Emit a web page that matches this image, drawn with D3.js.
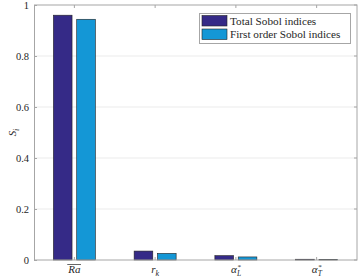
<!DOCTYPE html>
<html>
<head>
<meta charset="utf-8">
<script src="https://cdnjs.cloudflare.com/ajax/libs/d3/7.8.5/d3.min.js"></script>
<style>
  body { margin: 0; background: #fff; }
  text { font-family: "Liberation Serif", "DejaVu Serif", serif; fill: #262626; }
</style>
</head>
<body>
<script>
// Data
var categories = ["Ra", "rk", "aL", "aT"];
var seriesNames = ["Total Sobol indices", "First order Sobol indices"];
var totalSobol = [0.960, 0.035, 0.017, 0.003];
var firstSobol = [0.944, 0.026, 0.012, 0.002];
var yTicks = [0, 0.2, 0.4, 0.6, 0.8, 1];
var colors = ["#352a87", "#1497d6"];

var margin = {top: 5, right: 2, bottom: 18, left: 34},
    width = 359 - margin.left - margin.right,
    height = 278 - margin.top - margin.bottom;

var svg = d3.select("body").append("svg")
    .attr("width", 359)
    .attr("height", 278);

var g = svg.append("g")
    .attr("transform", "translate(" + margin.left + "," + margin.top + ")");

var x0 = d3.scaleBand().domain(categories).range([0, width]).padding(0);
var bw = x0.bandwidth();
var x1 = d3.scaleBand().domain([0, 1])
    .range([bw / 2 - 21, bw / 2 + 21]).paddingInner(0.2);
var y = d3.scaleLinear().domain([0, 1]).range([height, 0]);

// grid
g.selectAll("line.grid")
    .data(yTicks.slice(1, -1))
  .enter().append("line")
    .attr("class", "grid")
    .attr("x1", 0).attr("x2", width)
    .attr("y1", function(d) { return y(d); })
    .attr("y2", function(d) { return y(d); })
    .attr("stroke", "#ebebeb")
    .attr("stroke-width", 1);

// bars
var rows = categories.map(function(c, i) { return [totalSobol[i], firstSobol[i]]; });
var groups = g.selectAll("g.grp")
    .data(rows)
  .enter().append("g")
    .attr("class", "grp")
    .attr("transform", function(d, i) { return "translate(" + x0(categories[i]) + ",0)"; });

groups.selectAll("rect")
    .data(function(d) { return d; })
  .enter().append("rect")
    .attr("x", function(d, j) { return x1(j); })
    .attr("width", x1.bandwidth())
    .attr("y", function(d) { return y(d); })
    .attr("height", function(d) { return height - y(d); })
    .attr("fill", function(d, j) { return colors[j]; })
    .attr("stroke", "#222")
    .attr("stroke-width", 0.6);

// box
g.append("rect")
    .attr("x", 0.5).attr("y", 0)
    .attr("width", width - 0.5).attr("height", height)
    .attr("fill", "none")
    .attr("stroke", "#a6a6a6")
    .attr("stroke-width", 1);

// y axis
var yAxis = d3.axisLeft(y).tickValues(yTicks).tickSizeInner(-3).tickSizeOuter(0)
    .tickFormat(function(d) { return d === 0 || d === 1 ? d : d3.format(".1f")(d); });
var ya = g.append("g").call(yAxis);
ya.select(".domain").remove();
ya.selectAll(".tick line").attr("stroke", "#a6a6a6");
ya.selectAll(".tick text")
    .attr("x", -5)
    .style("font-size", "10.5px")
    .style("font-family", "'Liberation Serif', serif")
    .attr("fill", "#262626");

// right ticks
g.selectAll("line.rtick")
    .data(yTicks)
  .enter().append("line")
    .attr("x1", width - 3).attr("x2", width)
    .attr("y1", function(d) { return y(d); })
    .attr("y2", function(d) { return y(d); })
    .attr("stroke", "#a6a6a6");

// x ticks top and bottom
categories.forEach(function(c) {
  var cx = x0(c) + bw / 2;
  g.append("line").attr("x1", cx).attr("x2", cx).attr("y1", height).attr("y2", height - 3)
    .attr("stroke", "#a6a6a6");
  g.append("line").attr("x1", cx).attr("x2", cx).attr("y1", 0).attr("y2", 3)
    .attr("stroke", "#a6a6a6");
});

// x labels
var labY = height + 13;
function xLabel(c) { return x0(c) + bw / 2; }

var ra = g.append("text")
    .attr("x", xLabel("Ra")).attr("y", labY)
    .attr("text-anchor", "middle")
    .style("font-size", "11px").style("font-style", "italic")
    .text("Ra");
var bb = ra.node().getBBox();
g.append("line")
    .attr("x1", bb.x).attr("x2", bb.x + bb.width)
    .attr("y1", labY - 8.5).attr("y2", labY - 8.5)
    .attr("stroke", "#262626").attr("stroke-width", 0.7);

var rk = g.append("text")
    .attr("x", xLabel("rk")).attr("y", labY)
    .attr("text-anchor", "middle")
    .style("font-size", "11px").style("font-style", "italic");
rk.append("tspan").text("r");
rk.append("tspan").attr("dy", 2.5).style("font-size", "8px").text("k");

function alphaLabel(c, sub) {
  var lab = g.append("g");
  var a = lab.append("text")
    .attr("x", 0).attr("y", labY)
    .style("font-size", "11px").style("font-style", "italic")
    .text("α");
  var w = a.node().getComputedTextLength();
  lab.append("text")
    .attr("x", w + 0.5).attr("y", labY - 4)
    .style("font-size", "7px").style("font-style", "italic")
    .text("*");
  lab.append("text")
    .attr("x", w + 0.3).attr("y", labY + 2.5)
    .style("font-size", "7.5px").style("font-style", "italic")
    .text(sub);
  lab.attr("transform", "translate(" + (xLabel(c) - (w + 4) / 2) + ",0)");
}
alphaLabel("aL", "L");
alphaLabel("aT", "T");

// y label
var yl = svg.append("text")
    .attr("transform", "translate(16," + (margin.top + height / 2) + ") rotate(-90)")
    .attr("text-anchor", "middle")
    .style("font-size", "11px").style("font-style", "italic");
yl.append("tspan").text("S");
yl.append("tspan").attr("dy", 2.5).style("font-size", "8px").text("i");

// legend
var lg = svg.append("g").attr("transform", "translate(199,13)");
lg.append("rect")
    .attr("x", 0.5).attr("y", 0.5).attr("width", 151).attr("height", 30)
    .attr("fill", "#fff").attr("stroke", "#a6a6a6");
seriesNames.forEach(function(s, j) {
  lg.append("rect")
    .attr("x", 3).attr("y", 2.5 + j * 13.5).attr("width", 25).attr("height", 10.5)
    .attr("fill", colors[j]).attr("stroke", "#222").attr("stroke-width", 0.6);
  lg.append("text")
    .attr("x", 31).attr("y", 11.5 + j * 13.5)
    .style("font-size", "11.2px")
    .text(s);
});
</script>
</body>
</html>
